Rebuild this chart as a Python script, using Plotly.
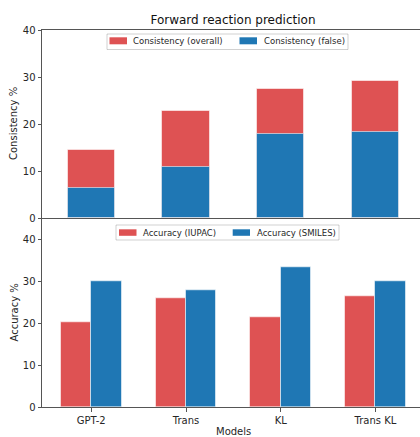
import plotly.graph_objects as go
from plotly.subplots import make_subplots

categories = ["GPT-2", "Trans", "KL", "Trans KL"]
consistency_overall = [14.5, 22.8, 27.4, 29.1]
consistency_false = [6.5, 10.9, 17.9, 18.4]
accuracy_iupac = [20.3, 26.0, 21.3, 26.3]
accuracy_smiles = [29.9, 27.9, 33.2, 30.0]

RED = "rgba(214,39,40,0.8)"
BLUE = "#1f77b4"
EDGE = "rgba(255,255,255,0.55)"
TXT = "#262626"
AX = "#555555"
FONT = "DejaVu Sans"

W, H = 420, 437
L, R, T, B = 42, 0, 30, 30


def px(x):
    return (x - L) / (W - L - R)


def py(y):
    return (H - B - y) / (H - T - B)


fig = make_subplots(rows=2, cols=1, shared_xaxes=False, vertical_spacing=0.0)

fig.add_trace(go.Bar(x=categories, y=consistency_overall, width=0.5,
                     marker=dict(color=RED, line=dict(color=EDGE, width=1)),
                     showlegend=False), row=1, col=1)
fig.add_trace(go.Bar(x=categories, y=consistency_false, width=0.5,
                     marker=dict(color=BLUE, line=dict(color=EDGE, width=1)),
                     showlegend=False), row=1, col=1)

fig.add_trace(go.Bar(x=categories, y=accuracy_iupac, width=0.32, offset=-0.32,
                     marker=dict(color=RED, line=dict(color=EDGE, width=1)),
                     showlegend=False), row=2, col=1)
fig.add_trace(go.Bar(x=categories, y=accuracy_smiles, width=0.32, offset=0.0,
                     marker=dict(color=BLUE, line=dict(color=EDGE, width=1)),
                     showlegend=False), row=2, col=1)

xr = [-0.52, 3.47]
top_dom = [py(218.3), 1.0]
bot_dom = [0.0, py(218.3)]

fig.update_layout(
    width=W, height=H,
    margin=dict(l=L, r=R, t=T, b=B),
    paper_bgcolor="white", plot_bgcolor="white",
    barmode="overlay",
    bargap=0,
    font=dict(family=FONT, size=10, color=TXT),
    title=dict(text="Forward reaction prediction", x=233 / W, xanchor="center",
               y=1 - 20 / H, yanchor="middle", yref="container",
               font=dict(family=FONT, size=12, color="#111111")),
    xaxis=dict(domain=[0, 1], range=xr, showline=True, linecolor=AX, linewidth=1,
               mirror=True, ticks="", showticklabels=False, showgrid=False,
               zeroline=False, anchor="y"),
    yaxis=dict(domain=top_dom, range=[0, 40], tickvals=[0, 10, 20, 30, 40],
               showline=True, linecolor=AX, linewidth=1, ticks="outside",
               ticklen=3.5, tickcolor=AX, showgrid=False, zeroline=False,
               tickfont=dict(family=FONT, size=10, color=TXT), anchor="x"),
    xaxis2=dict(domain=[0, 1], range=xr, showline=True, linecolor=AX, linewidth=1,
                ticks="outside", ticklen=3.5, tickcolor=AX, showgrid=False,
                zeroline=False, tickfont=dict(family=FONT, size=10, color=TXT),
                anchor="y2"),
    yaxis2=dict(domain=bot_dom, range=[0, 45], tickvals=[0, 10, 20, 30, 40],
                showline=True, linecolor=AX, linewidth=1, ticks="outside",
                ticklen=3.5, tickcolor=AX, showgrid=False, zeroline=False,
                tickfont=dict(family=FONT, size=10, color=TXT), anchor="x2"),
)

annotations = []
shapes = []

# axis titles
annotations.append(dict(text="Consistency %", x=px(14), y=py(124), xref="paper", yref="paper",
                        textangle=-90, showarrow=False, xanchor="center", yanchor="middle",
                        font=dict(family=FONT, size=10, color=TXT)))
annotations.append(dict(text="Accuracy %", x=px(14), y=py(312.5), xref="paper", yref="paper",
                        textangle=-90, showarrow=False, xanchor="center", yanchor="middle",
                        font=dict(family=FONT, size=10, color=TXT)))
annotations.append(dict(text="Models", x=px(233), y=py(431.5), xref="paper", yref="paper",
                        showarrow=False, xanchor="center", yanchor="middle",
                        font=dict(family=FONT, size=10, color=TXT)))


def legend(box, items, cy):
    x0, y0, x1, y1 = box
    shapes.append(dict(type="rect", xref="paper", yref="paper",
                       x0=px(x0), x1=px(x1), y0=py(y0), y1=py(y1),
                       line=dict(color="rgba(0,0,0,0.18)", width=1),
                       fillcolor="rgba(255,255,255,0.8)", layer="above"))
    for (sx0, sx1, sy0, sy1, color, tx, label) in items:
        shapes.append(dict(type="rect", xref="paper", yref="paper",
                           x0=px(sx0), x1=px(sx1), y0=py(sy0), y1=py(sy1),
                           line=dict(width=0), fillcolor=color, layer="above"))
        annotations.append(dict(text=label, x=px(tx), y=py(cy), xref="paper", yref="paper",
                                showarrow=False, xanchor="left", yanchor="middle",
                                borderpad=0, font=dict(family=FONT, size=8.5, color=TXT)))


legend((107, 34, 348, 49.5),
       [(109.5, 127, 37.3, 44.3, RED, 132, "Consistency (overall)"),
        (239.5, 257, 37.3, 44.3, BLUE, 262.5, "Consistency (false)")],
       41)
legend((116, 225, 339, 240),
       [(119, 136.5, 229.3, 235.8, RED, 141.5, "Accuracy (IUPAC)"),
        (232.7, 250, 229.3, 235.8, BLUE, 255.5, "Accuracy (SMILES)")],
       232.5)

fig.update_layout(annotations=annotations, shapes=shapes)

fig.write_html("out.html", config={"displayModeBar": False},
               post_script="document.body.style.margin='0';document.body.style.overflow='hidden';")
